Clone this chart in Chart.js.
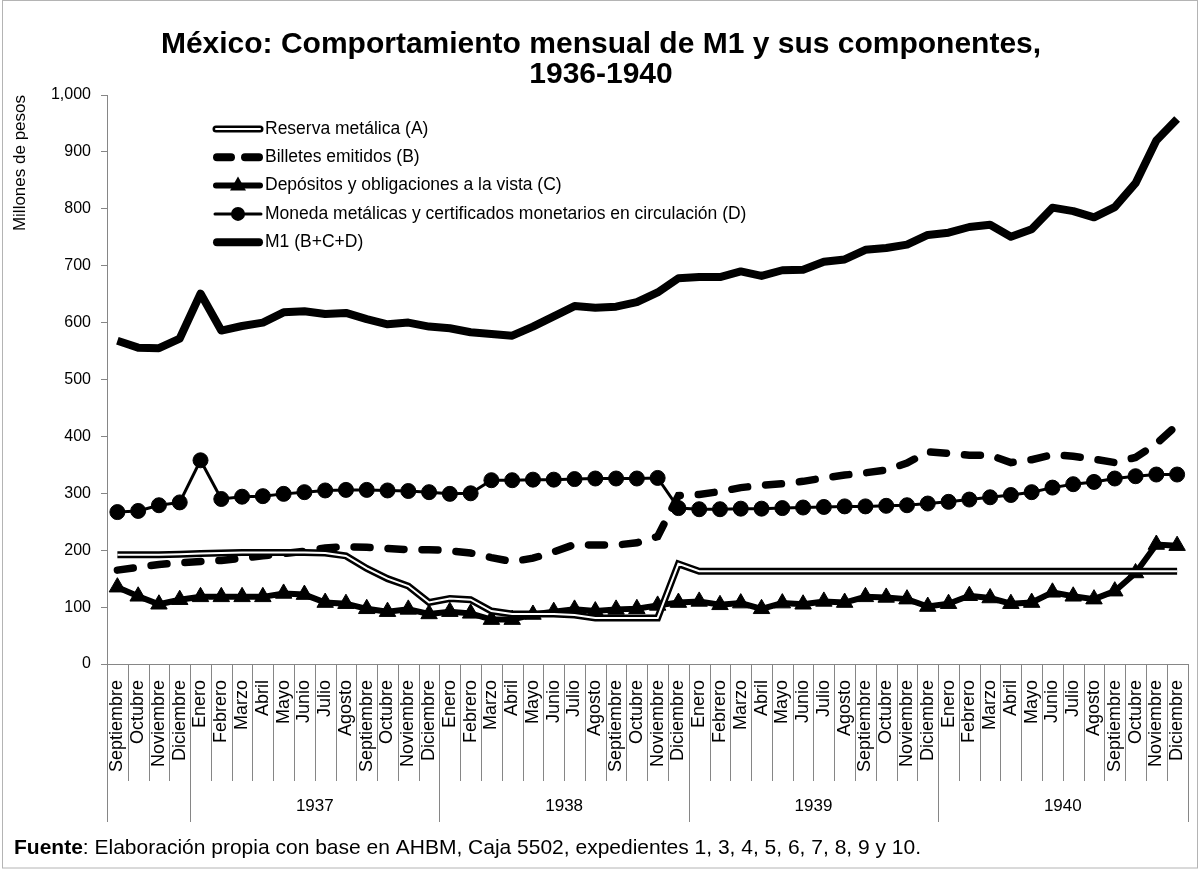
<!DOCTYPE html>
<html>
<head>
<meta charset="utf-8">
<script src="https://cdn.jsdelivr.net/npm/chart.js@4.4.1/dist/chart.umd.min.js"></script>
<style>
  html, body { margin: 0; padding: 0; background: #fff; }
  #wrap { width: 1198px; height: 869px; position: relative; }
</style>
</head>
<body>
<div id="wrap"><canvas id="m1Chart" width="1198" height="869"></canvas></div>
<script>
// meses de cada año; la serie empieza en septiembre de 1936
const meses = ['Enero', 'Febrero', 'Marzo', 'Abril', 'Mayo', 'Junio', 'Julio', 'Agosto', 'Septiembre', 'Octubre', 'Noviembre', 'Diciembre'];
const meses1936 = ['Septiembre', 'Octubre', 'Noviembre', 'Diciembre'];
const categorias = meses1936.concat(meses, meses, meses, meses);
const anios = ['1937', '1938', '1939', '1940'];

// millones de pesos
const reservaA = [
  192, 192, 192, 193,
  194, 195, 196, 196, 196, 196, 195, 190, 168, 150, 137, 108,
  115, 113, 93, 88, 88, 88, 86, 81, 81, 81, 81, 176,
  163, 163, 163, 163, 163, 163, 163, 163, 163, 163, 163, 163,
  163, 163, 163, 163, 163, 163, 163, 163, 163, 163, 163, 163,
];
const billetesB = [
  165, 170, 175, 178,
  180, 182, 186, 190, 194, 198, 204, 206, 205, 203, 201, 201,
  199, 195, 187, 180, 186, 197, 210, 209, 209, 213, 224, 296,
  298, 303, 310, 314, 317, 321, 327, 332, 336, 341, 353, 373,
  370, 367, 367, 354, 359, 368, 365, 360, 354, 363, 387, 420,
];
const depositosC = [
  135, 119, 105, 113,
  118, 118, 118, 118, 124, 122, 108, 106, 97, 92, 96, 88,
  92, 89, 78, 78, 87, 92, 96, 93, 96, 97, 103, 108,
  110, 104, 107, 97, 107, 105, 110, 108, 118, 117, 114, 101,
  106, 120, 116, 106, 108, 126, 119, 114, 128, 160, 210, 208,
];
const monedaD = [
  267, 269, 279, 284,
  358, 290, 294, 295, 299, 302, 305, 306, 306, 305, 304, 302,
  299, 300, 323, 323, 324, 324, 325, 326, 326, 326, 327, 274,
  272, 272, 273, 273, 274, 275, 276, 277, 277, 278, 279, 282,
  285, 289, 293, 297, 302, 310, 316, 320, 326, 330, 333, 333,
];
const m1 = [
  568, 556, 555, 572,
  651, 586, 594, 600, 618, 620, 615, 617, 606, 597, 600, 593,
  590, 583, 580, 577, 593, 611, 629, 626, 628, 636, 653, 678,
  680, 680, 690, 682, 692, 693, 707, 711, 728, 731, 737, 754,
  758, 768, 772, 751, 764, 802, 796, 785, 803, 845, 920, 958,
];

const FAMILIA = "'Liberation Sans', Arial, sans-serif";
Chart.defaults.font.family = FAMILIA;
Chart.defaults.color = '#000';

const leyenda = [
  { texto: 'Reserva metálica (A)', tipo: 'doble' },
  { texto: 'Billetes emitidos (B)', tipo: 'guiones' },
  { texto: 'Depósitos y obligaciones a la vista (C)', tipo: 'triangulo' },
  { texto: 'Moneda metálicas y certificados monetarios en circulación (D)', tipo: 'circulo' },
  { texto: 'M1 (B+C+D)', tipo: 'gruesa' },
];

// divisiones de meses y años bajo el eje, leyenda, fuente y marco
const decoraciones = {
  id: 'decoraciones',
  afterDraw(chart) {
    const { ctx, chartArea, scales } = chart;
    const x = scales.x;
    const mitad = (x.getPixelForValue(1) - x.getPixelForValue(0)) / 2;
    const borde = (i) => (i < categorias.length ? x.getPixelForValue(i) - mitad : x.getPixelForValue(i - 1) + mitad);
    const inicios = [0, 4, 16, 28, 40, 52];
    ctx.save();
    ctx.strokeStyle = '#868686';
    ctx.lineWidth = 1;
    for (let i = 0; i <= categorias.length; i++) {
      const px = Math.round(borde(i)) + 0.5;
      const fin = inicios.includes(i) ? 822 : 781;
      ctx.beginPath();
      ctx.moveTo(px, chartArea.bottom);
      ctx.lineTo(px, fin);
      ctx.stroke();
    }
    ctx.fillStyle = '#000';
    ctx.font = '17px ' + FAMILIA;
    ctx.textAlign = 'center';
    ctx.textBaseline = 'middle';
    anios.forEach((a, k) => {
      const cx = (borde(inicios[k + 1]) + borde(inicios[k + 2])) / 2;
      ctx.fillText(a, cx, 806);
    });

    // leyenda
    const x0 = 213, x1 = 263;
    ctx.textAlign = 'left';
    ctx.font = '17.5px ' + FAMILIA;
    leyenda.forEach((it, k) => {
      const y = 129 + k * 28.3;
      ctx.strokeStyle = '#000';
      ctx.fillStyle = '#000';
      ctx.setLineDash([]);
      ctx.lineCap = 'round';
      if (it.tipo === 'doble') {
        ctx.lineWidth = 7;
        ctx.beginPath(); ctx.moveTo(x0 + 3, y); ctx.lineTo(x1 - 3, y); ctx.stroke();
        ctx.strokeStyle = '#fff';
        ctx.lineWidth = 2;
        ctx.beginPath(); ctx.moveTo(x0 + 3, y); ctx.lineTo(x1 - 3, y); ctx.stroke();
      } else if (it.tipo === 'guiones') {
        ctx.lineWidth = 8;
        ctx.beginPath(); ctx.moveTo(x0 + 4, y); ctx.lineTo(x0 + 18, y); ctx.stroke();
        ctx.beginPath(); ctx.moveTo(x0 + 32, y); ctx.lineTo(x1 - 4, y); ctx.stroke();
      } else if (it.tipo === 'triangulo') {
        ctx.lineWidth = 6;
        ctx.beginPath(); ctx.moveTo(x0 + 3, y); ctx.lineTo(x1 - 3, y); ctx.stroke();
        const cx = (x0 + x1) / 2;
        ctx.beginPath();
        ctx.moveTo(cx, y - 9); ctx.lineTo(cx + 8, y + 5); ctx.lineTo(cx - 8, y + 5);
        ctx.closePath(); ctx.fill();
      } else if (it.tipo === 'circulo') {
        ctx.lineWidth = 3;
        ctx.beginPath(); ctx.moveTo(x0 + 2, y); ctx.lineTo(x1 - 2, y); ctx.stroke();
        ctx.beginPath(); ctx.arc((x0 + x1) / 2, y, 7, 0, Math.PI * 2); ctx.fill();
      } else {
        ctx.lineWidth = 8;
        ctx.beginPath(); ctx.moveTo(x0 + 4, y); ctx.lineTo(x1 - 4, y); ctx.stroke();
      }
      ctx.fillStyle = '#000';
      ctx.fillText(it.texto, x1 + 2, y);
    });

    // fuente
    ctx.textBaseline = 'alphabetic';
    ctx.font = 'bold 21px ' + FAMILIA;
    ctx.fillText('Fuente', 14, 854);
    const w = ctx.measureText('Fuente').width;
    ctx.font = '21px ' + FAMILIA;
    ctx.fillText(': Elaboración propia con base en AHBM, Caja 5502, expedientes 1, 3, 4, 5, 6, 7, 8, 9 y 10.', 14 + w, 854);

    // marco del gráfico
    ctx.strokeStyle = '#b4b4b4';
    ctx.lineWidth = 1;
    ctx.strokeRect(2.5, 0.5, 1195, 867.5);
    ctx.restore();
  },
};

const canvas = document.getElementById('m1Chart');
new Chart(canvas.getContext('2d'), {
  type: 'line',
  data: {
    labels: categorias,
    datasets: [
      { label: 'Reserva metálica (A) interior', data: reservaA, borderColor: '#fff', borderWidth: 2, pointRadius: 0, order: 0 },
      { label: 'Reserva metálica (A)', data: reservaA, borderColor: '#000', borderWidth: 7, pointRadius: 0, order: 1 },
      { label: 'Depósitos y obligaciones a la vista (C)', data: depositosC, borderColor: '#000', borderWidth: 6,
        pointStyle: 'triangle', pointRadius: 9.5, pointBackgroundColor: '#000', pointBorderColor: '#000', pointBorderWidth: 1, order: 2 },
      { label: 'Moneda metálicas y certificados monetarios en circulación (D)', data: monedaD, borderColor: '#000', borderWidth: 3,
        pointStyle: 'circle', pointRadius: 7.5, pointBackgroundColor: '#000', pointBorderColor: '#000', pointBorderWidth: 1, order: 3 },
      { label: 'Billetes emitidos (B)', data: billetesB, borderColor: '#000', borderWidth: 7.5, borderDash: [16, 18],
        borderCapStyle: 'round', pointRadius: 0, order: 4 },
      { label: 'M1 (B+C+D)', data: m1, borderColor: '#000', borderWidth: 8, pointRadius: 0, borderJoinStyle: 'round', order: 5 },
    ],
  },
  options: {
    responsive: false,
    devicePixelRatio: 1,
    animation: false,
    layout: { padding: { top: 28, left: 8, right: 4, bottom: 0 } },
    plugins: {
      legend: { display: false },
      tooltip: { enabled: false },
      title: {
        display: true,
        text: ['México: Comportamiento mensual de M1 y sus componentes,', '1936-1940'],
        font: { size: 30, weight: 'bold', lineHeight: 1.0 },
        color: '#000',
        padding: { top: 2, bottom: 5 },
      },
    },
    scales: {
      x: {
        offset: true,
        grid: { display: false, drawTicks: false },
        border: { display: true, color: '#868686' },
        ticks: { autoSkip: false, minRotation: 90, maxRotation: 90, padding: 16, font: { size: 18 }, color: '#000' },
        afterFit: (s) => { s.height = 205; s.paddingLeft = 0; s.paddingRight = 0; },
      },
      y: {
        min: 0,
        max: 1000,
        grid: { display: true, drawOnChartArea: false, drawTicks: true, tickLength: 6, color: '#868686' },
        border: { display: true, color: '#868686' },
        ticks: { stepSize: 100, padding: 10, font: { size: 16 }, color: '#000' },
        title: { display: true, text: 'Millones de pesos', align: 'end', font: { size: 17 }, color: '#000', padding: 2 },
        afterFit: (s) => { s.width = 99; },
      },
    },
  },
  plugins: [decoraciones],
});
</script>
</body>
</html>
